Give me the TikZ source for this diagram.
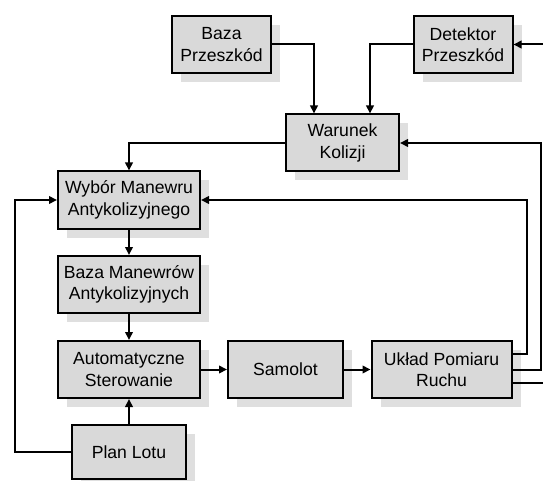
\documentclass[tikz,border=0pt]{standalone}
\usepackage{fontspec}
\setmainfont{Liberation Sans}
\usetikzlibrary{arrows.meta,shadows}
\definecolor{boxgray}{RGB}{217,217,217}
\definecolor{shadgray}{RGB}{223,223,223}
\begin{document}
\begin{tikzpicture}[x=1pt,y=-1pt,
  blk/.style={draw=black, line width=2pt, fill=boxgray, inner sep=0pt,
    minimum height=57pt, align=center,
    font=\fontsize{17.6}{21.5}\selectfont,
    drop shadow={opacity=1, fill=shadgray, shadow xshift=9pt, shadow yshift=-9pt}},
  arr/.style={line width=2pt, -{Triangle[length=8pt,width=7.5pt]}},
  ln/.style={line width=2pt}]
\useasboundingbox (0,0) rectangle (543,481);
\node[blk, minimum width=99pt] (baza) at (221.5,44.5) {Baza\\Przeszkód};
\node[blk, minimum width=99pt] (detektor) at (463,44.5) {Detektor\\Przeszkód};
\node[blk, minimum width=113pt] (warunek) at (342.5,143) {Warunek\\Kolizji};
\node[blk, minimum width=142pt] (wybor) at (129,200) {Wybór Manewru\\Antykolizyjnego};
\node[blk, minimum width=142pt] (bazaman) at (129,284.5) {Baza Manewrów\\Antykolizyjnych};
\node[blk, minimum width=142pt] (auto) at (129,369.5) {Automatyczne\\Sterowanie};
\node[blk, minimum width=115pt] (samolot) at (285.5,369.5) {Samolot};
\node[blk, minimum width=140pt] (uklad) at (441.5,369.5) {Układ Pomiaru\\Ruchu};
\node[blk, minimum width=114pt, minimum height=54pt] (plan) at (129,452) {Plan Lotu};
\coordinate (L) at (15,0);
\coordinate (R1) at (527,0);
\coordinate (R2) at (541,0);
\coordinate (E1) at (552,44.5);
\coordinate (E3) at (552,383);
\draw[arr] (baza.east) -| ([xshift=-28.5pt]warunek.north);
\draw[arr] (detektor.west) -| ([xshift=27.5pt]warunek.north);
\draw[arr] (E1) -- (detektor.east);
\draw[arr] (warunek.west) -| (wybor.north);
\draw[arr] (wybor) -- (bazaman);
\draw[arr] (bazaman) -- (auto);
\draw[arr] (plan) -- (auto);
\draw[arr] (plan.west) -- (plan.west -| L) |- (wybor.west);
\draw[arr] (auto) -- (samolot);
\draw[arr] (samolot) -- (uklad);
\draw[arr] ([yshift=15.5pt]uklad.east) -- ([yshift=15.5pt]uklad.east -| R1) |- (wybor.east);
\draw[arr] (uklad.east) -- (uklad.east -| R2) |- (warunek.east);
\draw[ln] ([yshift=-13.5pt]uklad.east) -- (E3);
\end{tikzpicture}
\end{document}
